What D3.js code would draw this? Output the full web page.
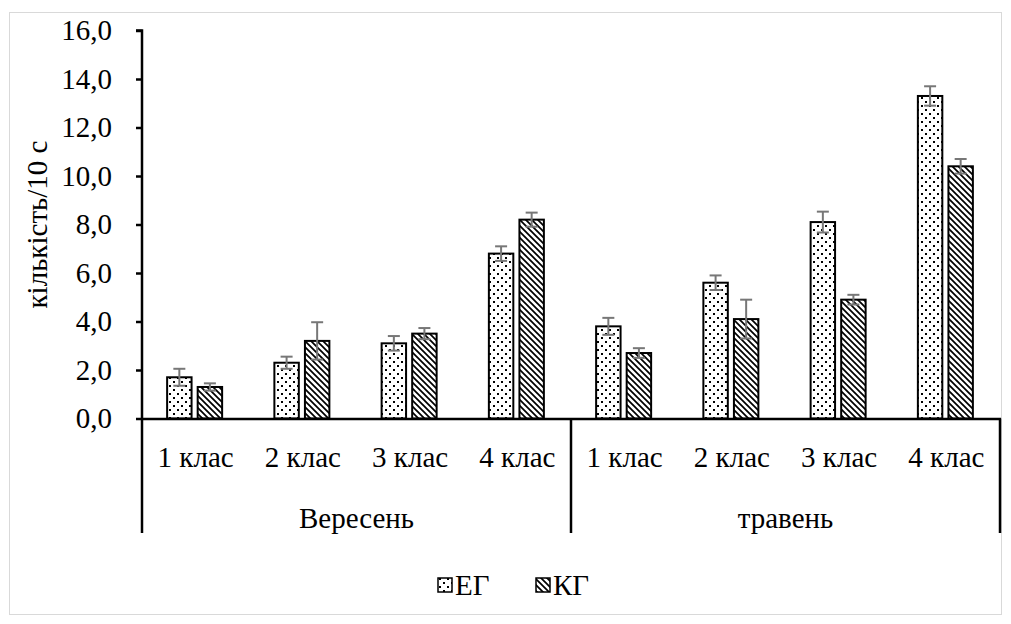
<!DOCTYPE html>
<html>
<head>
<meta charset="utf-8">
<script src="https://cdn.jsdelivr.net/npm/d3@7"></script>
<style>
  html, body { margin: 0; padding: 0; background: #fff; }
</style>
</head>
<body>
<svg id="chart" width="1011" height="624" font-family="'Liberation Serif', 'DejaVu Serif', serif"></svg>
<script>
// Two-level categories: month group, then school class
const months = ["Вересень", "травень"];
const classes = ["1 клас", "2 клас", "3 клас", "4 клас"];
const seriesNames = ["ЕГ", "КГ"];

// Mean counts per 10 s, ordered Вересень 1–4 клас, then травень 1–4 клас
const valuesEG = [1.7, 2.3, 3.1, 6.8, 3.8, 5.6, 8.1, 13.3];
const valuesKG = [1.3, 3.2, 3.5, 8.2, 2.7, 4.1, 4.9, 10.4];
// Error bar half-lengths
const errorsEG = [0.35, 0.25, 0.3, 0.3, 0.35, 0.3, 0.43, 0.4];
const errorsKG = [0.15, 0.77, 0.23, 0.29, 0.2, 0.8, 0.2, 0.3];

const yTicks = [0, 2, 4, 6, 8, 10, 12, 14, 16];
const yTitle = "кількість/10 с";

const serif = "'Liberation Serif', 'DejaVu Serif', serif";
const fontSize = "29px";

const svg = d3.select("#chart");

// chart area frame
svg.append("rect")
  .attr("x", 9.5).attr("y", 12.5)
  .attr("width", 992).attr("height", 602)
  .attr("fill", "#fff").attr("stroke", "#d9d9d9").attr("stroke-width", 1);

// fill patterns
const defs = svg.append("defs");
const dots = defs.append("pattern")
  .attr("id", "dots").attr("patternUnits", "userSpaceOnUse")
  .attr("width", 8).attr("height", 8);
dots.append("rect").attr("width", 8).attr("height", 8).attr("fill", "#fff");
dots.append("rect").attr("x", 1).attr("y", 1).attr("width", 2).attr("height", 2).attr("fill", "#000");
dots.append("rect").attr("x", 5).attr("y", 5).attr("width", 2).attr("height", 2).attr("fill", "#000");

const hatch = defs.append("pattern")
  .attr("id", "hatch").attr("patternUnits", "userSpaceOnUse")
  .attr("width", 6).attr("height", 6);
hatch.append("rect").attr("width", 6).attr("height", 6).attr("fill", "#fff");
hatch.append("path")
  .attr("d", "M-1,-1 L7,7 M-1,5 L1,7 M5,-1 L7,1")
  .attr("stroke", "#000").attr("stroke-width", 1.7);

const fills = { "ЕГ": "url(#dots)", "КГ": "url(#hatch)" };

// plot bounds
const plotLeft = 142, plotRight = 1000, plotTop = 30.5, plotBase = 418.5;
const keys = [];
months.forEach(m => classes.forEach(c => keys.push(m + "|" + c)));

const x = d3.scaleBand().domain(keys).range([plotLeft, plotRight]).padding(0);
const y = d3.scaleLinear().domain([0, 16]).range([plotBase, plotTop]);

const rows = keys.map((k, i) => ({
  key: k,
  month: k.split("|")[0],
  cls: k.split("|")[1],
  vals: [
    { s: "ЕГ", v: valuesEG[i], e: errorsEG[i] },
    { s: "КГ", v: valuesKG[i], e: errorsKG[i] }
  ]
}));

// bars with error bars
const groups = svg.append("g").selectAll("g.cat").data(rows).enter().append("g")
  .attr("class", "cat");

groups.each(function (d) {
  const c = x(d.key) + x.bandwidth() / 2 - 1;
  const inner = d3.scaleBand().domain(seriesNames)
    .range([c - 27.5, c + 27.5]).paddingInner(0.2);
  const g = d3.select(this);
  g.selectAll("rect").data(d.vals).enter().append("rect")
    .attr("x", v => inner(v.s))
    .attr("y", v => y(v.v))
    .attr("width", inner.bandwidth())
    .attr("height", v => y(0) - y(v.v))
    .attr("fill", v => fills[v.s])
    .attr("stroke", "#000").attr("stroke-width", 2);

  d.vals.forEach(v => {
    const cx = inner(v.s) + inner.bandwidth() / 2;
    const eg = g.append("g").attr("stroke", "#777").attr("stroke-width", 2);
    eg.append("line").attr("x1", cx).attr("x2", cx)
      .attr("y1", y(v.v + v.e)).attr("y2", y(v.v - v.e));
    [v.v + v.e, v.v - v.e].forEach(t => {
      eg.append("line").attr("x1", cx - 6).attr("x2", cx + 6)
        .attr("y1", y(t)).attr("y2", y(t));
    });
  });
});

// y axis
const yAxis = d3.axisLeft(y).tickValues(yTicks).tickSize(6).tickPadding(24)
  .tickFormat(d => d3.format(".1f")(d).replace(".", ","));
const ya = svg.append("g").attr("transform", `translate(${plotLeft},0)`).call(yAxis);
ya.attr("font-family", serif).attr("font-size", fontSize);
ya.select(".domain").attr("stroke", "#000").attr("stroke-width", 2.5)
  .attr("d", `M-6,${plotTop}H0V${plotBase}`);
ya.selectAll(".tick line").attr("stroke", "#000").attr("stroke-width", 2.5);
ya.selectAll(".tick text").attr("fill", "#000");

// y title
svg.append("text")
  .attr("transform", `translate(47,${(plotTop + plotBase) / 2}) rotate(-90)`)
  .attr("text-anchor", "middle")
  .attr("font-family", serif).attr("font-size", fontSize)
  .text(yTitle);

// category axis: baseline, class labels, group labels and separators
const sepBottom = 533;
svg.append("line")
  .attr("x1", plotLeft - 1).attr("x2", plotRight + 1)
  .attr("y1", plotBase + 0.5).attr("y2", plotBase + 0.5)
  .attr("stroke", "#000").attr("stroke-width", 2.5);

svg.append("g").selectAll("text").data(rows).enter().append("text")
  .attr("x", d => x(d.key) + x.bandwidth() / 2)
  .attr("y", 467)
  .attr("text-anchor", "middle")
  .attr("font-family", serif).attr("font-size", fontSize)
  .text(d => d.cls);

const monthSpan = m => {
  const ks = keys.filter(k => k.startsWith(m + "|"));
  return [x(ks[0]), x(ks[ks.length - 1]) + x.bandwidth()];
};

months.forEach(m => {
  const [a, b] = monthSpan(m);
  svg.append("text")
    .attr("x", (a + b) / 2).attr("y", 528)
    .attr("text-anchor", "middle")
    .attr("font-family", serif).attr("font-size", fontSize)
    .text(m);
});

const seps = [plotLeft, monthSpan(months[0])[1], plotRight];
svg.append("g").selectAll("line").data(seps).enter().append("line")
  .attr("x1", d => d).attr("x2", d => d)
  .attr("y1", plotBase).attr("y2", sepBottom)
  .attr("stroke", "#000").attr("stroke-width", 2.5);

// legend
const legend = svg.append("g").attr("transform", "translate(438,585)");
const legX = [0, 98];
seriesNames.forEach((s, i) => {
  const lg = legend.append("g").attr("transform", `translate(${legX[i]},0)`);
  lg.append("rect").attr("x", 0).attr("y", -7).attr("width", 14).attr("height", 14)
    .attr("fill", fills[s]).attr("stroke", "#000").attr("stroke-width", 1.5);
  lg.append("text").attr("x", 17).attr("y", 10)
    .attr("font-family", serif).attr("font-size", fontSize)
    .text(s);
});
</script>
</body>
</html>
